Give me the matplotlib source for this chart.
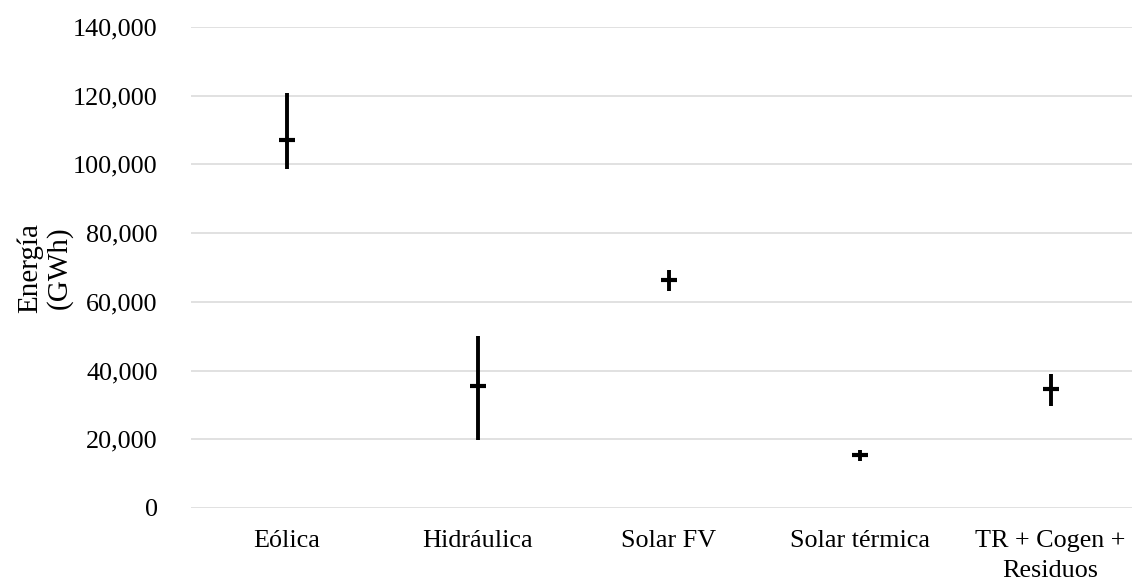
import matplotlib
matplotlib.use("Agg")
import matplotlib.pyplot as plt
from matplotlib.ticker import FuncFormatter, MultipleLocator

plt.rcParams['font.family'] = ['Liberation Serif', 'DejaVu Serif']

categories = ["Eólica", "Hidráulica", "Solar FV", "Solar térmica", "TR + Cogen +\nResiduos"]
high_values = [120700, 50200, 69300, 16800, 39000]
low_values = [98800, 19900, 63200, 13700, 29800]
mean_values = [107000, 35600, 66400, 15400, 34600]

fig = plt.figure(figsize=(11.32, 5.81), dpi=100)
W, H = 1132, 581
left, right, top, bottom = 191, 1146, 27, 508
ax = fig.add_axes([left / W, 1 - bottom / H, (right - left) / W, (bottom - top) / H])

x = list(range(len(categories)))
ax.vlines(x, low_values, high_values, color='black', linewidth=2.8, zorder=3)
ax.plot(x, mean_values, linestyle='none', marker='_', markersize=11.0,
        markeredgewidth=3.0, color='black', zorder=4)

ax.set_xlim(-0.5, len(categories) - 0.5)
ax.set_ylim(0, 140000)
ax.yaxis.set_major_locator(MultipleLocator(20000))
ax.yaxis.set_major_formatter(FuncFormatter(lambda v, p: f"{int(v):,}"))
ax.set_xticks(x)
ax.set_xticklabels(categories, fontsize=18.8, linespacing=1.45, va='top')
ax.tick_params(axis='y', labelsize=18.8, length=0, pad=24)
ax.tick_params(axis='x', length=0, pad=16)

ax.grid(axis='y', color='#d9d9d9', linewidth=1.1)
ax.set_axisbelow(True)
for s in ax.spines.values():
    s.set_visible(False)

fig.text(45 / W, 1 - 268 / H, "Energía\n(GWh)", rotation=90, ha='center', va='center',
         fontsize=21, linespacing=1.12)

fig.savefig("out.png", dpi=100, facecolor='white')
